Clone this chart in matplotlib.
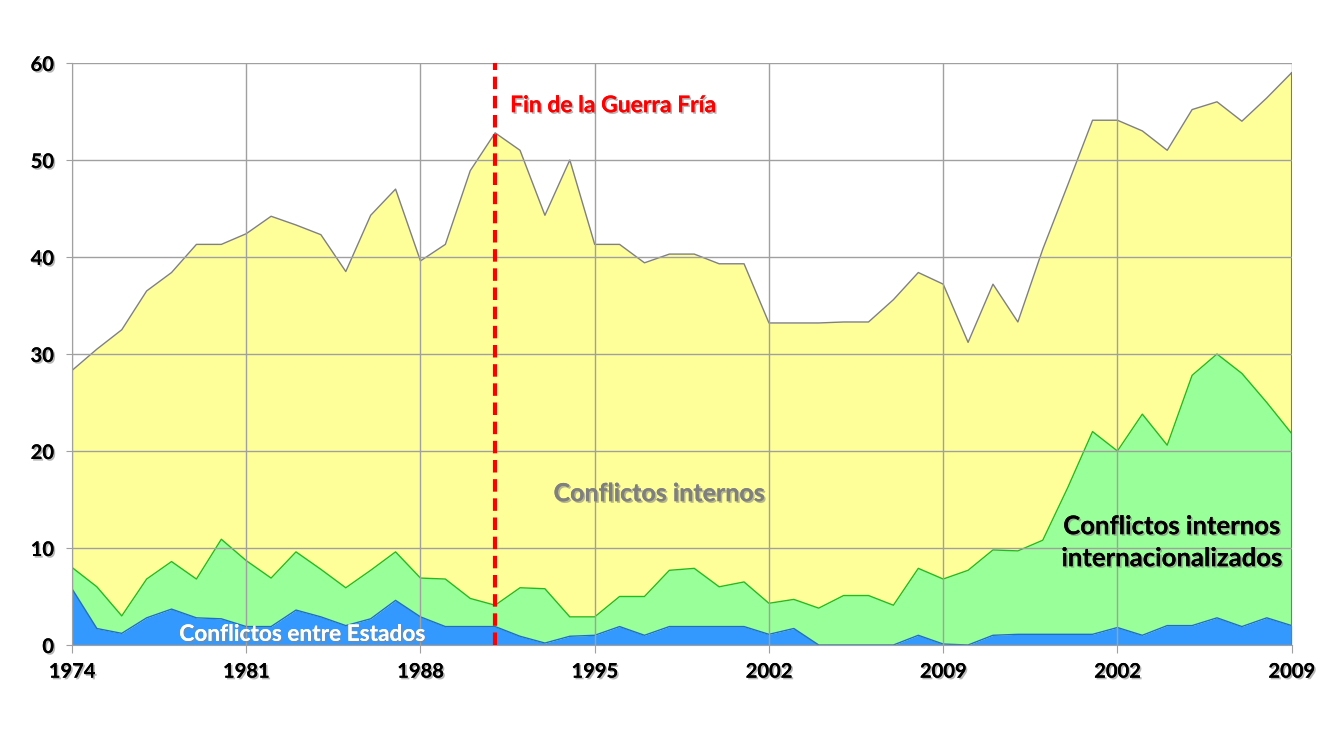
import numpy as np
import matplotlib
matplotlib.use("Agg")
import matplotlib.pyplot as plt
import matplotlib.patheffects as pe

plt.rcParams['font.family'] = ['Lato', 'DejaVu Sans']

# datos (número de conflictos por año)
tick_labels = ["1974", "1981", "1988", "1995", "2002", "2009", "2002", "2009"]

entre_estados = [5.8, 1.7, 1.2, 2.8, 3.7, 2.8, 2.7, 1.9, 1.9, 3.6,
                 2.9, 2.0, 2.7, 4.6, 2.9, 1.9, 1.9, 1.9, 0.9, 0.2,
                 0.9, 1.0, 1.9, 1.0, 1.9, 1.9, 1.9, 1.9, 1.1, 1.7,
                 0.0, 0.0, 0.0, 0.0, 1.0, 0.1, 0.0, 1.0, 1.1, 1.1,
                 1.1, 1.1, 1.8, 1.0, 2.0, 2.0, 2.8, 1.9, 2.8, 2.0]

internacionalizados = [2.2, 4.3, 1.8, 4.0, 4.9, 4.0, 8.2, 6.8, 5.0, 6.0,
                       4.9, 3.9, 5.0, 5.0, 4.0, 4.9, 2.9, 2.2, 5.0, 5.6,
                       2.0, 1.9, 3.1, 4.0, 5.8, 6.0, 4.1, 4.6, 3.2, 3.0,
                       3.8, 5.1, 5.1, 4.1, 6.9, 6.7, 7.7, 8.8, 8.6, 9.7,
                       15.1, 20.9, 18.2, 22.8, 18.6, 25.8, 27.2, 26.1, 22.2, 19.8]

internos = [20.3, 24.5, 29.5, 29.7, 29.8, 34.5, 30.4, 33.7, 37.3, 33.7,
            34.5, 32.6, 36.6, 37.4, 32.7, 34.5, 44.1, 48.7, 45.1, 38.5,
            47.1, 38.4, 36.3, 34.4, 32.6, 32.4, 33.3, 32.8, 28.9, 28.5,
            29.4, 28.2, 28.2, 31.5, 30.5, 30.4, 23.5, 27.4, 23.6, 30.0,
            31.2, 32.1, 34.1, 29.2, 30.4, 27.4, 26.0, 26.0, 31.4, 37.2]

fin_guerra_fria = 17  # índice del año 1991

x = np.arange(len(internos))
b = np.array(entre_estados)
g = b + np.array(internacionalizados)
t = g + np.array(internos)

fig = plt.figure(figsize=(13.33, 7.5), dpi=100)
ax = fig.add_axes([0.054, 0.14, 0.915, 0.776])

ax.fill_between(x, 0, b, color='#3399FF', lw=0, zorder=1)
ax.fill_between(x, b, g, color='#99FF99', lw=0, zorder=1)
ax.fill_between(x, g, t, color='#FFFF99', lw=0, zorder=1)
ax.plot(x, b, color='#1F6FC0', lw=1, zorder=2)
ax.plot(x, g, color='#22BB22', lw=1, zorder=2)
ax.plot(x, t, color='#808080', lw=1, zorder=2)
ax.plot([x[-1], x[-1]], [0, t[-1]], color='#707070', lw=1.5, zorder=2)

ax.set_xlim(0, len(x) - 1)
ax.set_ylim(0, 60)
ax.set_xticks(x[::7])
ax.set_xticklabels(tick_labels)
ax.set_yticks(range(0, 61, 10))
ax.grid(True, color='#A0A0A0', lw=1)
ax.set_axisbelow(False)
for s in ['top', 'right']:
    ax.spines[s].set_visible(False)
for s in ['left', 'bottom']:
    ax.spines[s].set_color('#A0A0A0')
ax.tick_params(axis='x', length=6, color='#A0A0A0', pad=6)
ax.tick_params(axis='y', length=4, color='#A0A0A0', pad=9)

shadow = [pe.withSimplePatchShadow(offset=(1.2, -1.2), shadow_rgbFace='#888888', alpha=0.6), pe.Normal()]
for lab in ax.get_xticklabels() + ax.get_yticklabels():
    lab.set_fontsize(14.5)
    lab.set_fontweight('bold')
    lab.set_path_effects(shadow)

ax.axvline(fin_guerra_fria, color='#FF0000', lw=3, ls=(0, (3, 1.6)), zorder=4)

ax.text(17.6, 55.6, "Fin de la Guerra Fría", color='#FF0000', fontsize=16.5,
        fontweight='bold', va='center', ha='left', path_effects=shadow, zorder=5)
ax.text(23.6, 15.6, "Conflictos internos", color='#7F7F7F', fontsize=18,
        fontweight='bold', va='center', ha='center', path_effects=shadow, zorder=3)
ax.text(9.25, 1.1, "Conflictos entre Estados", color='white', fontsize=16.3,
        fontweight='bold', va='center', ha='center', path_effects=shadow, zorder=3)
ax.text(44.2, 10.6, "Conflictos internos\ninternacionalizados", color='black',
        fontsize=18.5, fontweight='bold', va='center', ha='center',
        linespacing=1.4, path_effects=shadow, zorder=3)

fig.savefig("out.png", dpi=100)
